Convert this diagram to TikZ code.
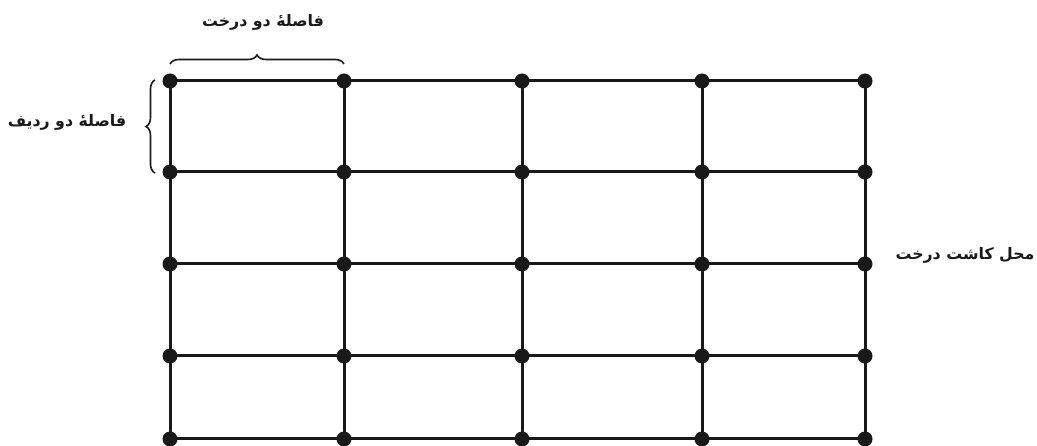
\documentclass[tikz,border=0pt]{standalone}
\usepackage{fontspec}
\usetikzlibrary{decorations.pathreplacing}
\newfontfamily\arabicfont[Script=Arabic]{DejaVu Sans}
\TeXXeTstate=1
\tikzset{
  gridline/.style={line width=3pt, draw=black!90},
  plantdot/.style={circle, fill=black!90, inner sep=0pt, minimum size=15pt},
  bracestyle/.style={decorate, decoration={brace, amplitude=9pt}, line width=1.6pt, draw=black!90},
  lbl/.style={font=\arabicfont\bfseries\fontsize{15.8}{18}\selectfont, inner sep=0pt, text=black!90}
}
\begin{document}
\begin{tikzpicture}[x=1pt,y=-1pt]
\useasboundingbox (0,0) rectangle (1037,446);
\def\xs{{170,344,522,702,865}}
\def\ys{{81,172,264,356,439}}
\foreach \i in {0,...,4}{
  \foreach \j in {0,...,4}{
    \pgfmathsetmacro\xx{\xs[\i]}
    \pgfmathsetmacro\yy{\ys[\j]}
    \coordinate (c-\i-\j) at (\xx,\yy);
  }
}
% horizontal lines
\foreach \j in {0,...,4}{ \draw[gridline] (c-0-\j) -- (c-4-\j); }
% vertical lines
\foreach \i in {0,...,4}{ \draw[gridline] (c-\i-0) -- (c-\i-4); }
% dots
\foreach \i in {0,...,4}{
  \foreach \j in {0,...,4}{ \node[plantdot] (p-\i-\j) at (c-\i-\j) {}; }
}
% braces
\coordinate (tb1) at (170,64);
\coordinate (tb2) at (344,64);
\draw[bracestyle] (tb1) -- (tb2);
\coordinate (lb1) at (155,173);
\coordinate (lb2) at (155,80);
\draw[bracestyle] (lb1) -- (lb2);
% labels
\node[lbl] (t1) at (263,22) {\beginR فاصلهٔ دو درخت\endR};
\node[lbl] (t2) at (67,122) {\beginR فاصلهٔ دو ردیف\endR};
\node[lbl] (t3) at (965,255) {\beginR محل کاشت درخت\endR};
\end{tikzpicture}
\end{document}
